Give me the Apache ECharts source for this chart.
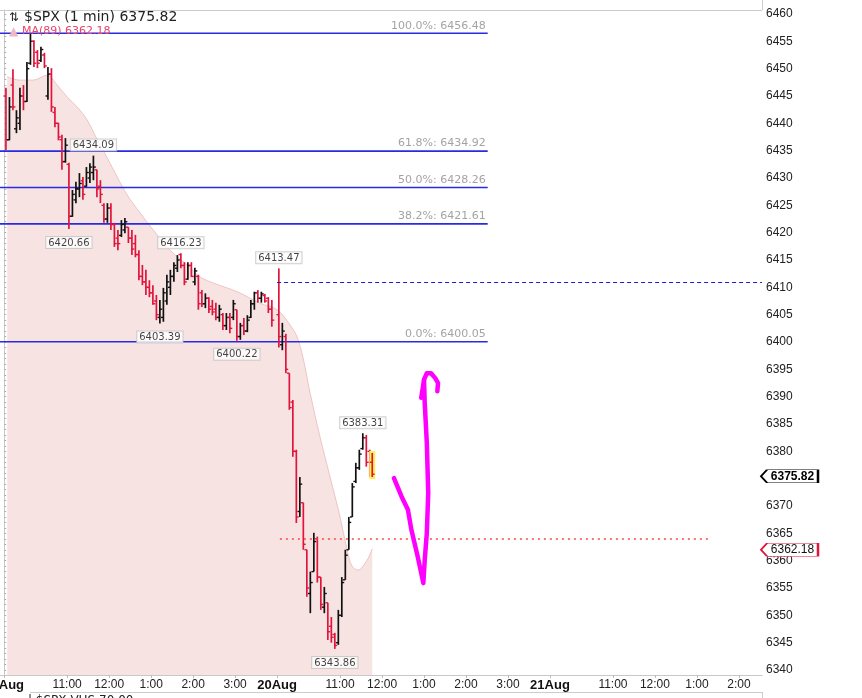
<!DOCTYPE html>
<html><head><meta charset="utf-8">
<script src="https://cdn.jsdelivr.net/npm/echarts@6/dist/echarts.min.js"></script>
<style>html,body{margin:0;padding:0;background:#fff}#c{width:862px;height:698px}</style>
</head><body><div id="c"></div>
<script>
// x = trading minutes since 19 Aug 09:30 (20 Aug 09:30 = 390, 21 Aug 09:30 = 780)
const xLabelMinutes = [0, 90, 150, 210, 270, 330, 390, 480, 540, 600, 660, 720, 780, 870, 930, 990, 1050];
const xLabelTexts = ['19Aug', '11:00', '12:00', '1:00', '2:00', '3:00', '20Aug', '11:00', '12:00', '1:00', '2:00', '3:00', '21Aug', '11:00', '12:00', '1:00', '2:00'];
const yTickLabels = [6340, 6345, 6350, 6355, 6360, 6365, 6370, 6375, 6380, 6385, 6390, 6395, 6400, 6405, 6410, 6415, 6420, 6425, 6430, 6435, 6440, 6445, 6450, 6455, 6460];

// bar times (minutes) — 5-minute bars, plus the last live bar
const barTimes = [
  2.5, 7.5, 12.5, 17.5, 22.5, 27.5, 32.5, 37.5, 42.5, 47.5, 52.5, 57.5, 62.5, 67.5, 72.5, 77.5, 82.5, 87.5, 92.5, 97.5,
  102.5, 107.5, 112.5, 117.5, 122.5, 127.5, 132.5, 137.5, 142.5, 147.5, 152.5, 157.5, 162.5, 167.5, 172.5, 177.5, 182.5, 187.5, 192.5, 197.5,
  202.5, 207.5, 212.5, 217.5, 222.5, 227.5, 232.5, 237.5, 242.5, 247.5, 252.5, 257.5, 262.5, 267.5, 272.5, 277.5, 282.5, 287.5, 292.5, 297.5,
  302.5, 307.5, 312.5, 317.5, 322.5, 327.5, 332.5, 337.5, 342.5, 347.5, 352.5, 357.5, 362.5, 367.5, 372.5, 377.5, 382.5,
  392.5, 397.5, 402.5, 407.5, 412.5, 417.5, 422.5, 427.5, 432.5, 437.5, 442.5, 447.5, 452.5, 457.5, 462.5, 467.5, 472.5, 477.5,
  482.5, 487.5, 492.5, 497.5, 502.5, 507.5, 512.5, 517.5, 522.5, 526
];
const barOpen = [
  6445, 6437, 6447, 6439, 6440, 6445, 6444, 6451, 6455, 6453, 6451.5, 6452.5, 6445, 6449, 6442, 6440, 6437, 6433, 6432.5, 6423,
  6426, 6428, 6429.5, 6428.5, 6430, 6431, 6431.5, 6428.5, 6425, 6422.5, 6424.5, 6421.5, 6419, 6419.5, 6420.5, 6421, 6419, 6418, 6416, 6412,
  6411, 6410, 6409, 6407.5, 6404.5, 6404.5, 6407.5, 6410, 6412, 6413.5, 6416, 6414, 6411.5, 6414, 6411, 6412, 6409, 6407, 6408, 6406.5,
  6406, 6404.5, 6405, 6403, 6404.5, 6404.5, 6405.9, 6401, 6403, 6402, 6404.5, 6407, 6409, 6408, 6408.5, 6408, 6406,
  6405, 6399.5, 6401, 6394.3, 6389, 6380, 6369, 6370.6, 6362, 6354, 6358, 6364, 6357, 6351.5, 6352.3, 6348, 6346.5, 6345,
  6350, 6356.5, 6362, 6368, 6374.5, 6377, 6380.5, 6382.5, 6380, 6378
];
const barHigh = [
  6446.5, 6444.8, 6449.9, 6442.4, 6446.5, 6447.0, 6451.2, 6456.48, 6455.2, 6453.4, 6454.0, 6452.9, 6450.3, 6450.1, 6443.0, 6440.1, 6437.9, 6437.3, 6432.8, 6427.8,
  6429.3, 6430.9, 6430.2, 6432.0, 6432.7, 6434.09, 6431.5, 6429.6, 6425.4, 6425.4, 6425.4, 6421.8, 6420.5, 6422.3, 6422.7, 6421.0, 6420.5, 6419.6, 6416.8, 6414.1,
  6413.2, 6411.3, 6410.4, 6408.6, 6407.7, 6409.9, 6412.3, 6413.2, 6414.6, 6415.9, 6416.23, 6414.6, 6414.6, 6414.6, 6413.6, 6412.3, 6409.5, 6408.9, 6408.2, 6407.7,
  6407.2, 6406.8, 6405.3, 6405.3, 6405.3, 6407.7, 6405.9, 6403.5, 6404.4, 6404.9, 6407.7, 6409.2, 6409.5, 6409.2, 6408.8, 6408.2, 6407.7,
  6413.47, 6403.5, 6401.5, 6394.3, 6389.4, 6380.3, 6375.3, 6370.6, 6362.0, 6358.0, 6365.1, 6364.4, 6357.0, 6355.2, 6352.3, 6349.7, 6346.8, 6351.0,
  6357.0, 6362.0, 6368.0, 6374.2, 6377.9, 6380.3, 6383.31, 6383.0, 6380.3, 6379.7
];
const barLow = [
  6435.1, 6436.9, 6442.4, 6438.2, 6438.8, 6442.4, 6443.9, 6450.7, 6450.3, 6450.1, 6451.2, 6450.1, 6444.3, 6442.1, 6439.3, 6436.9, 6431.5, 6432.8, 6420.66, 6422.9,
  6425.4, 6426.5, 6426.0, 6428.4, 6429.1, 6429.6, 6426.5, 6425.4, 6421.8, 6421.8, 6420.5, 6417.4, 6416.8, 6419.2, 6419.9, 6418.1, 6415.9, 6415.5, 6411.3, 6410.4,
  6408.6, 6408.2, 6406.8, 6404.0, 6403.39, 6403.7, 6406.8, 6408.6, 6411.0, 6412.8, 6413.5, 6410.4, 6411.4, 6411.9, 6410.4, 6405.9, 6406.4, 6406.2, 6405.3, 6404.9,
  6404.0, 6403.7, 6402.2, 6402.2, 6401.6, 6404.0, 6400.22, 6400.4, 6401.3, 6401.8, 6404.4, 6405.9, 6407.2, 6407.2, 6407.2, 6405.3, 6402.8,
  6399.0, 6398.5, 6394.3, 6387.6, 6379.0, 6366.9, 6368.0, 6362.0, 6353.4, 6350.4, 6358.0, 6356.0, 6351.0, 6350.4, 6345.5, 6345.0, 6343.86, 6344.6,
  6349.7, 6356.5, 6362.0, 6368.0, 6374.2, 6376.6, 6380.3, 6377.2, 6375.3, 6375.3
];
const barClose = [
  6437, 6443, 6443, 6441, 6445, 6444, 6450, 6455, 6451, 6451, 6453.5, 6450.5, 6449, 6443, 6440, 6437.5, 6433, 6436, 6423, 6427,
  6428, 6429, 6427, 6431, 6432, 6432, 6428, 6427, 6422.5, 6424.5, 6421.5, 6418, 6418, 6421.5, 6422, 6419, 6417, 6416, 6412, 6411,
  6410, 6409, 6407, 6405, 6406, 6409, 6411, 6412, 6414, 6415, 6414, 6411, 6414, 6412, 6413, 6407, 6407, 6408, 6406, 6405.5,
  6404.5, 6406, 6403, 6404.5, 6402.5, 6407, 6401, 6403, 6402, 6404, 6407, 6409, 6408, 6408.8, 6407.5, 6406, 6404,
  6401, 6402, 6395, 6388, 6380, 6368, 6374, 6363, 6355, 6356, 6363.5, 6357, 6352, 6354, 6347, 6346, 6344.5, 6350,
  6356, 6361, 6367, 6373.5, 6377, 6379.5, 6382.5, 6378, 6377, 6375.82
];

// MA(89) read from the shaded area's edge
const maTimes = [4.3, 22.9, 41.4, 61.4, 75.7, 90, 104.3, 118.6, 132.9, 147.1, 161.4, 175.7, 194.3, 212.9, 237.1, 261.4, 280, 298.6, 332.9, 365.7, 390, 408.6, 418.6, 427.1, 437.1, 451.4, 465.7, 480, 490, 497.1, 505.7, 518.6, 526];
const maValues = [6448.5, 6447.9, 6447.9, 6448.8, 6447.0, 6444.8, 6443.0, 6440.6, 6437.0, 6433.7, 6430.2, 6426.9, 6423.6, 6420.5, 6416.8, 6414.1, 6411.9, 6410.8, 6409.2, 6407.1, 6405.9, 6403.1, 6400.9, 6397.1, 6390.7, 6382.6, 6375.3, 6368.0, 6362.0, 6359.0, 6358.3, 6360.1, 6362.18];

// Fibonacci retracement
const fibPercents = ['100.0%', '61.8%', '50.0%', '38.2%', '0.0%'];
const fibPrices = [6456.48, 6434.92, 6428.26, 6421.61, 6400.05];
const fibEndMinute = 691;

// swing annotations
const annTimes = [127.5, 92.5, 252.5, 392.5, 222.5, 332.5, 512.5, 472.5];
const annPrices = [6434.09, 6420.66, 6416.23, 6413.47, 6403.39, 6400.22, 6383.31, 6343.86];
const annSides = ['top', 'bottom', 'top', 'top', 'bottom', 'bottom', 'top', 'bottom'];

// horizontal reference lines
const dashedLevel = 6411.0, dashedFrom = 390;
const dottedLevel = 6364.1, dottedFrom = 394, dottedTo = 1008;

// hand-drawn magenta strokes
const penTimes = [557, 568, 577, 582, 591, 599, 601, 604, 606, 604, 601, 600, 604, 610, 616, 620, 619];
const penPrices = [6375.1, 6371.7, 6369.3, 6365.6, 6360.7, 6355.9, 6360.1, 6365.1, 6372.4, 6381.5, 6388.8, 6393.1, 6394.3, 6394.3, 6393.4, 6392.5, 6391.0];
const penTailTimes = [596, 600];
const penTailPrices = [6389.8, 6393.1];

const lastClose = 6375.82, lastMA = 6362.18;
const xMin = -6, xMax = 1083, yMin = 6339.09, yMax = 6460.73;

const chart = echarts.init(document.getElementById('c'));
const ohlc = barTimes.map((t, i) => [t, barOpen[i], barHigh[i], barLow[i], barClose[i]]);
const lastIndex = ohlc.length - 1;
const UP = '#111111', DOWN = '#e0143c';

function renderOHLC(params, api) {
  const t = api.value(0), o = api.value(1), h = api.value(2), l = api.value(3), c = api.value(4);
  const pH = api.coord([t, h]), pL = api.coord([t, l]), pO = api.coord([t, o]), pC = api.coord([t, c]);
  const color = c >= o ? UP : DOWN;
  const tw = 2.4;
  const kids = [];
  if (params.dataIndex === lastIndex) {
    kids.push({type: 'rect', shape: {x: pH[0] - 3, y: pH[1] - 2, width: 6, height: pL[1] - pH[1] + 4}, style: {fill: '#fff05a'}});
  }
  kids.push({type: 'line', shape: {x1: pH[0], y1: pH[1], x2: pL[0], y2: pL[1]}, style: {stroke: color, lineWidth: 1.7}});
  kids.push({type: 'line', shape: {x1: pO[0] - tw, y1: pO[1], x2: pO[0], y2: pO[1]}, style: {stroke: color, lineWidth: 1.4}});
  kids.push({type: 'line', shape: {x1: pC[0], y1: pC[1], x2: pC[0] + tw, y2: pC[1]}, style: {stroke: color, lineWidth: 1.4}});
  return {type: 'group', children: kids};
}

const yMinor = [];
for (let v = 6340; v <= 6460; v += 1) yMinor.push(v);

const FIB_BLUE = '#2a2ae0';
const fibSeries = fibPrices.map((p, i) => ({
  name: 'fib ' + fibPercents[i], type: 'line', z: 2, silent: true,
  symbol: 'none',
  lineStyle: {color: FIB_BLUE, width: 1.6},
  data: [[xMin, p], [fibEndMinute, p]]
}));

const fibLabelData = fibPrices.map((p, i) => ({
  value: [fibEndMinute, p],
  label: {formatter: fibPercents[i] + ': ' + p.toFixed(2)}
}));

const annData = annTimes.map((t, i) => ({
  value: [t, annPrices[i]],
  label: {position: annSides[i], distance: annSides[i] === 'top' ? 5 : 8, formatter: annPrices[i].toFixed(2)}
}));

const tagPath = 'path://M0,6.5L6,0L57,0L57,13L6,13Z';

chart.setOption({
  animation: false,
  backgroundColor: '#ffffff',
  grid: {left: 0, right: 100, top: 10, bottom: 23, containLabel: false, outerBoundsMode: 'none'},
  xAxis: {
    type: 'value', min: xMin, max: xMax,
    axisLine: {show: true, lineStyle: {color: '#c8c8c8'}},
    axisTick: {show: true, customValues: xLabelMinutes, length: 3, lineStyle: {color: '#bbbbbb'}},
    axisLabel: {
      customValues: xLabelMinutes, margin: 4, color: '#222', fontSize: 12, fontFamily: 'Liberation Sans',
      formatter: v => {
        const i = xLabelMinutes.indexOf(v);
        const s = i >= 0 ? xLabelTexts[i] : '';
        return /Aug/.test(s) ? '{b|' + s + '}' : s;
      },
      rich: {b: {fontWeight: 'bold', fontSize: 13, fontFamily: 'Liberation Sans', color: '#111'}}
    },
    splitLine: {show: false}
  },
  yAxis: {
    type: 'value', position: 'right', min: yMin, max: yMax,
    axisLine: {show: true, lineStyle: {color: '#c8c8c8'}},
    axisTick: {show: true, customValues: yMinor, length: 2, lineStyle: {color: '#b0b0b0'}},
    axisLabel: {customValues: yTickLabels, margin: 4, color: '#222', fontSize: 12, fontFamily: 'Liberation Sans', formatter: v => String(v)},
    splitLine: {show: false}
  },
  graphic: [
    {type: 'line', shape: {x1: 0, y1: 10.5, x2: 762, y2: 10.5}, style: {stroke: '#cccccc', lineWidth: 1}, silent: true},
    {type: 'line', shape: {x1: 762.5, y1: 0, x2: 762.5, y2: 10}, style: {stroke: '#cccccc', lineWidth: 1}, silent: true},
    {type: 'line', shape: {x1: 30, y1: 692.5, x2: 762, y2: 692.5}, style: {stroke: '#cccccc', lineWidth: 1}, silent: true},
    {type: 'line', shape: {x1: 762.5, y1: 692, x2: 762.5, y2: 698}, style: {stroke: '#cccccc', lineWidth: 1}, silent: true},
    {type: 'text', left: 9, top: 12, style: {text: '⇅', fontSize: 12, fill: '#222', fontFamily: 'DejaVu Sans'}, z: 10},
    {type: 'text', left: 24, top: 10, style: {text: '$SPX (1 min) 6375.82', fontSize: 14, fill: '#222', fontFamily: 'DejaVu Sans'}, z: 10},
    {type: 'text', left: 9, top: 26, style: {text: '▲', fontSize: 12, fill: '#f2b8c2', fontFamily: 'DejaVu Sans'}, z: 10},
    {type: 'text', left: 22, top: 26, style: {text: 'MA(89) 6362.18', fontSize: 11, fill: '#e8456a', fontFamily: 'DejaVu Sans'}, z: 10},
    {type: 'text', left: 28, top: 695, style: {text: '| $SPX VHS 70.00', fontSize: 12, fill: '#222', fontFamily: 'DejaVu Sans'}, z: 10}
  ],
  series: [
    {
      name: 'MA(89)', type: 'line', z: 1,
      data: maTimes.map((t, i) => [t, maValues[i]]),
      smooth: 0.35, symbol: 'none', silent: true,
      lineStyle: {color: '#eec4c4', width: 1},
      areaStyle: {color: '#f8e3e3', opacity: 1, origin: 'start'},
      markPoint: {
        silent: true,
        data: [
          {coord: [xMax, lastClose], symbol: tagPath, symbolSize: [57, 13], symbolKeepAspect: false, symbolOffset: [27.5, 2],
           itemStyle: {color: '#ffffff', borderColor: '#000000', borderWidth: 1.2},
           label: {show: true, position: 'inside', offset: [3, 0], formatter: lastClose.toFixed(2), color: '#000', fontWeight: 'bold', fontSize: 12, fontFamily: 'Liberation Sans'}},
          {coord: [xMax, lastMA], symbol: tagPath, symbolSize: [57, 13], symbolKeepAspect: false, symbolOffset: [27.5, 1],
           itemStyle: {color: '#ffffff', borderColor: '#e0143c', borderWidth: 1.2},
           label: {show: true, position: 'inside', offset: [3, 0], formatter: lastMA.toFixed(2), color: '#111', fontSize: 12, fontFamily: 'Liberation Sans'}}
        ]
      }
    },
    ...fibSeries,
    {
      name: 'fibLabels', type: 'scatter', z: 2, silent: true,
      symbolSize: 0.1, itemStyle: {color: 'rgba(0,0,0,0)'},
      label: {show: true, position: 'top', align: 'right', distance: 2, offset: [-2, 0], color: '#8c8c8c', fontSize: 11, fontFamily: 'DejaVu Sans'},
      data: fibLabelData
    },
    {
      name: 'refLines', type: 'line', data: [], z: 2,
      markLine: {
        silent: true, symbol: 'none', label: {show: false},
        data: [
          [{coord: [dashedFrom, dashedLevel], lineStyle: {color: '#1c1cd0', width: 1.2, type: [4, 3]}}, {coord: [xMax, dashedLevel]}],
          [{coord: [dottedFrom, dottedLevel], lineStyle: {color: '#ff4444', width: 1.5, type: [2, 4]}}, {coord: [dottedTo, dottedLevel]}]
        ]
      }
    },
    {
      name: '$SPX', type: 'custom', z: 3, silent: true,
      renderItem: renderOHLC,
      encode: {x: 0, y: [1, 2, 3, 4]},
      data: ohlc
    },
    {
      name: 'annotations', type: 'scatter', z: 4, silent: true,
      symbolSize: 0.1, itemStyle: {color: 'rgba(0,0,0,0)'},
      label: {show: true, backgroundColor: '#ffffff', borderColor: '#c4c4c4', borderWidth: 1, padding: [1, 2, 0, 2],
              color: '#111', fontSize: 10, fontFamily: 'DejaVu Sans'},
      data: annData
    },
    {
      name: 'pen', type: 'line', z: 5, silent: true,
      data: penTimes.map((t, i) => [t, penPrices[i]]),
      symbol: 'none', smooth: false,
      lineStyle: {color: '#ff00ff', width: 4.5, cap: 'round', join: 'round'}
    },
    {
      name: 'penTail', type: 'line', z: 5, silent: true,
      data: penTailTimes.map((t, i) => [t, penTailPrices[i]]),
      symbol: 'none',
      lineStyle: {color: '#ff00ff', width: 4.5, cap: 'round', join: 'round'}
    }
  ]
});
</script>
</body></html>
